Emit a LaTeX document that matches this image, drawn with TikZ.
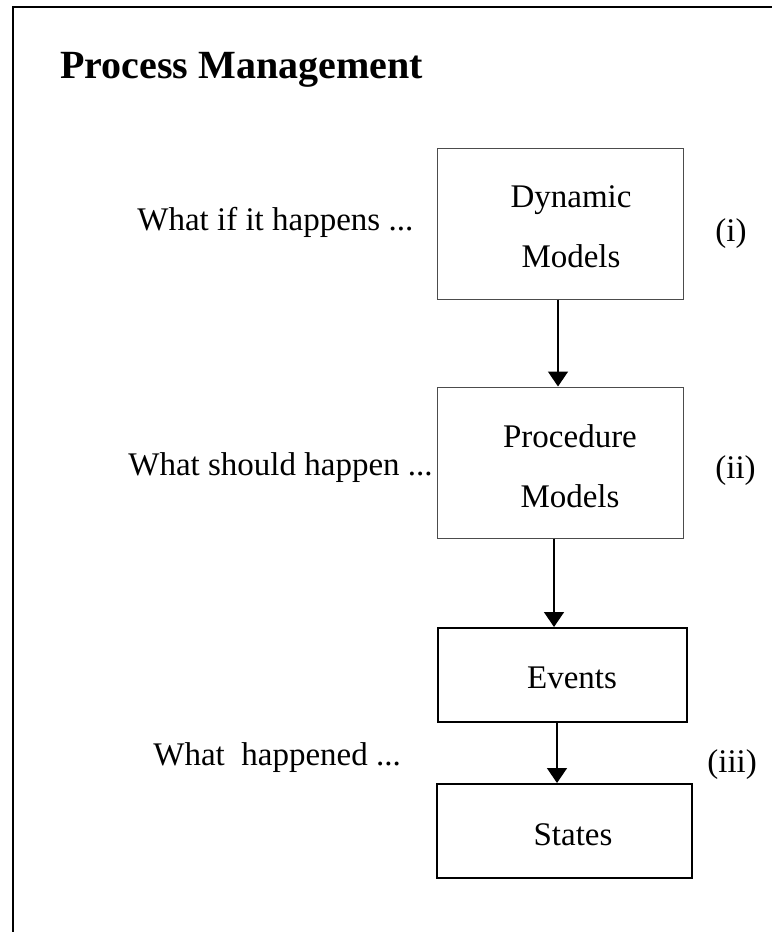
\documentclass[tikz,border=0pt]{standalone}
\usepackage{fontspec}
\setmainfont{Liberation Serif}
\usetikzlibrary{arrows.meta}

\begin{document}
\begin{tikzpicture}[x=0.5pt,y=-0.5pt,
  thinbox/.style={draw=black!70,line width=0.5pt,minimum width=123pt,minimum height=75.5pt,inner sep=0pt},
  thickbox/.style={draw,line width=1pt,minimum height=47pt,inner sep=0pt},
  txt/.style={font=\fontsize{16.5}{30}\selectfont,align=center,inner sep=0pt},
  arr/.style={line width=0.75pt,-{Triangle[width=10pt,length=7.5pt]}}]
  \useasboundingbox (0,0) rectangle (772,932);
  \draw[line width=1pt] (13,932) -- (13,7) -- (772,7);
  \node[anchor=base west,inner sep=0pt,font=\fontsize{20}{24}\selectfont\bfseries] (title) at (60,78) {Process Management};

  \node[thinbox] (dyn) at (560,223.5) {};
  \node[txt] (dyntext) at (571,227) {Dynamic\\Models};
  \node[txt,anchor=base west] (whatif) at (137,230) {What if it happens ...};
  \node[txt,anchor=base west] (one) at (715,241) {(i)};

  \node[thinbox] (proc) at (560,462.5) {};
  \node[txt] (proctext) at (570,466) {Procedure\\Models};
  \node[txt,anchor=base west] (should) at (128,475) {What should happen ...};
  \node[txt,anchor=base west] (two) at (715,478) {(ii)};

  \node[thickbox,minimum width=124.5pt] (ev) at (562.5,675) {};
  \node[txt,anchor=base] (evtext) at (572,688) {Events};
  \node[thickbox,minimum width=127.5pt] (st) at (564.5,831) {};
  \node[txt,anchor=base] (sttext) at (573,845) {States};
  \node[txt,anchor=base west] (happened) at (153,765) {What\ \ happened ...};
  \node[txt,anchor=base west] (three) at (707,772) {(iii)};

  \draw[arr] ([xshift=-1pt]dyn.south) -- ([xshift=-1pt]dyn.south |- proc.north);
  \draw[arr] ([xshift=-3pt]proc.south) -- ([xshift=-3pt]proc.south |- ev.north);
  \draw[arr] ([xshift=-2.75pt]ev.south) -- ([xshift=-2.75pt]ev.south |- st.north);
\end{tikzpicture}
\end{document}
